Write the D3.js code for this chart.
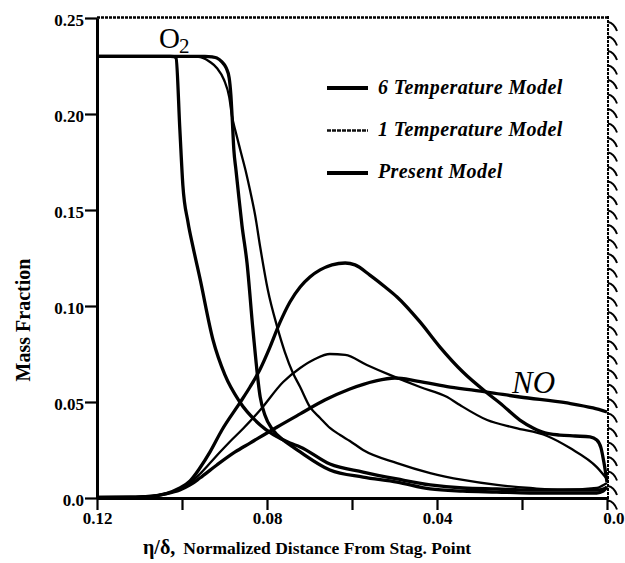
<!DOCTYPE html>
<html>
<head>
<meta charset="utf-8">
<script src="https://cdn.jsdelivr.net/npm/d3@7"></script>
<style>
  html, body { margin: 0; padding: 0; background: #fff; }
  svg { display: block; }
  text { font-family: 'Liberation Serif', 'Times New Roman', serif; fill: #000; }
</style>
</head>
<body>
<div id="chart"></div>
<script>
'use strict';

// [eta/delta, mass fraction] pairs
const o2SixTemp = [
    [0.1200, 0.2300], [0.0946, 0.2300], [0.0929, 0.2297], [0.0918, 0.2292], [0.0906, 0.2271],
    [0.0896, 0.2240], [0.0889, 0.2188], [0.0885, 0.2099], [0.0882, 0.1984], [0.0878, 0.1813],
    [0.0873, 0.1708], [0.0868, 0.1604], [0.0859, 0.1422], [0.0847, 0.1224], [0.0833, 0.0875],
    [0.0816, 0.0526], [0.0805, 0.0432], [0.0786, 0.0354], [0.0762, 0.0302], [0.0739, 0.0266],
    [0.0722, 0.0240], [0.0652, 0.0146], [0.0574, 0.0109], [0.0494, 0.0083], [0.0416, 0.0047],
    [0.0339, 0.0036], [0.0259, 0.0031], [0.0181, 0.0026], [0.0104, 0.0026], [0.0024, 0.0026],
    [0.0009, 0.0036], [0.0000, 0.0057]
];
const o2OneTemp = [
    [0.1200, 0.2300], [0.0981, 0.2300], [0.0962, 0.2298], [0.0951, 0.2292], [0.0934, 0.2271],
    [0.0918, 0.2240], [0.0901, 0.2177], [0.0889, 0.2089], [0.0882, 0.1984], [0.0873, 0.1901],
    [0.0861, 0.1797], [0.0849, 0.1693], [0.0840, 0.1604], [0.0828, 0.1474], [0.0816, 0.1307],
    [0.0798, 0.1083], [0.0776, 0.0891], [0.0758, 0.0760], [0.0739, 0.0651], [0.0722, 0.0578],
    [0.0699, 0.0474], [0.0675, 0.0417], [0.0652, 0.0365], [0.0628, 0.0328], [0.0605, 0.0297],
    [0.0574, 0.0250], [0.0494, 0.0182], [0.0416, 0.0130], [0.0339, 0.0094], [0.0259, 0.0068],
    [0.0181, 0.0052], [0.0104, 0.0042], [0.0024, 0.0052], [0.0012, 0.0063], [0.0000, 0.0078]
];
const o2Present = [
    [0.1200, 0.2300], [0.1028, 0.2300], [0.1019, 0.2299], [0.1014, 0.2292], [0.1005, 0.1917],
    [0.0998, 0.1630], [0.0986, 0.1438], [0.0974, 0.1307], [0.0958, 0.1146], [0.0927, 0.0823],
    [0.0899, 0.0641], [0.0864, 0.0500], [0.0816, 0.0380], [0.0746, 0.0286], [0.0722, 0.0266],
    [0.0652, 0.0177], [0.0574, 0.0135], [0.0494, 0.0099], [0.0416, 0.0068], [0.0339, 0.0052],
    [0.0259, 0.0047], [0.0181, 0.0042], [0.0104, 0.0042], [0.0024, 0.0042], [0.0009, 0.0047],
    [0.0000, 0.0057]
];
const noSixTemp = [
    [0.1200, 0.0003], [0.1122, 0.0004], [0.1075, 0.0008], [0.1040, 0.0021], [0.1005, 0.0052],
    [0.0981, 0.0089], [0.0958, 0.0156], [0.0934, 0.0240], [0.0906, 0.0354], [0.0864, 0.0495],
    [0.0840, 0.0578], [0.0816, 0.0672], [0.0793, 0.0786], [0.0769, 0.0917], [0.0746, 0.1021],
    [0.0722, 0.1099], [0.0699, 0.1151], [0.0675, 0.1188], [0.0647, 0.1214], [0.0616, 0.1224],
    [0.0593, 0.1214], [0.0558, 0.1161], [0.0522, 0.1099], [0.0494, 0.1047], [0.0440, 0.0917],
    [0.0393, 0.0786], [0.0339, 0.0656], [0.0282, 0.0547], [0.0252, 0.0495], [0.0205, 0.0406],
    [0.0174, 0.0365], [0.0146, 0.0339], [0.0111, 0.0328], [0.0075, 0.0323], [0.0040, 0.0318],
    [0.0024, 0.0302], [0.0014, 0.0260], [0.0007, 0.0182], [0.0000, 0.0083]
];
const noOneTemp = [
    [0.1200, 0.0003], [0.1122, 0.0004], [0.1075, 0.0008], [0.1040, 0.0021], [0.1005, 0.0047],
    [0.0981, 0.0078], [0.0958, 0.0125], [0.0934, 0.0182], [0.0911, 0.0238], [0.0888, 0.0292],
    [0.0856, 0.0362], [0.0816, 0.0458], [0.0762, 0.0604], [0.0722, 0.0677], [0.0687, 0.0724],
    [0.0652, 0.0750], [0.0616, 0.0745], [0.0565, 0.0693], [0.0511, 0.0641], [0.0440, 0.0578],
    [0.0376, 0.0526], [0.0346, 0.0484], [0.0282, 0.0406], [0.0216, 0.0365], [0.0141, 0.0323],
    [0.0087, 0.0260], [0.0024, 0.0161], [0.0000, 0.0099]
];
const noPresent = [
    [0.1200, 0.0003], [0.1122, 0.0004], [0.1075, 0.0008], [0.1040, 0.0021], [0.1005, 0.0042],
    [0.0981, 0.0068], [0.0958, 0.0104], [0.0918, 0.0172], [0.0875, 0.0240], [0.0840, 0.0286],
    [0.0776, 0.0370], [0.0722, 0.0438], [0.0664, 0.0510], [0.0605, 0.0568], [0.0546, 0.0609],
    [0.0499, 0.0625], [0.0447, 0.0609], [0.0369, 0.0578], [0.0282, 0.0552], [0.0205, 0.0526],
    [0.0094, 0.0495], [0.0033, 0.0469], [0.0000, 0.0448]
];

const legendLabels = ['6 Temperature Model', '1 Temperature Model', 'Present Model'];

const xLongTicks = [0.12, 0.10, 0.08, 0.06, 0.04, 0.02, 0.0];
const xShortTicks = [0.11, 0.09, 0.07, 0.05, 0.03, 0.01];
const xLabelTicks = [0.12, 0.08, 0.04, 0.0];
const xTickLabels = ['0.12', '0.08', '0.04', '0.0'];
const yMajorTicks = [0.0, 0.05, 0.10, 0.15, 0.20, 0.25];
const yTickLabels = ['0.0', '0.05', '0.10', '0.15', '0.20', '0.25'];
const yMinorTicks = [0.0125, 0.025, 0.0375, 0.0625, 0.075, 0.0875, 0.1125, 0.125, 0.1375,
    0.1625, 0.175, 0.1875, 0.2125, 0.225, 0.2375];

let width = 625;
let height = 563;
let plotLeft = 97, plotRight = 607, plotTop = 18, plotBottom = 498;

let svg = d3.select('#chart').append('svg')
    .attr('width', width)
    .attr('height', height)
    .style('background', '#fff');

let x = d3.scaleLinear().domain([0.12, 0]).range([plotLeft, plotRight]);
let y = d3.scaleLinear().domain([0, 0.25]).range([plotBottom, plotTop]);

// model styles: 0 = 6 temp, 1 = 1 temp, 2 = present
let styles = [
    { width: 3.3, dash: null },
    { width: 2.3, dash: null },
    { width: 3.3, dash: null }
];

let series = [
    { data: o2SixTemp, model: 0 },
    { data: o2OneTemp, model: 1 },
    { data: o2Present, model: 2 },
    { data: noSixTemp, model: 0 },
    { data: noOneTemp, model: 1 },
    { data: noPresent, model: 2 }
];

// frame: dotted top and wall
svg.append('line')
    .attr('x1', plotLeft).attr('x2', plotRight)
    .attr('y1', plotTop - 0.5).attr('y2', plotTop - 0.5)
    .attr('stroke', '#000').attr('stroke-width', 2.6)
    .attr('stroke-dasharray', '3,1');

svg.append('line')
    .attr('x1', plotRight + 1).attr('x2', plotRight + 1)
    .attr('y1', plotTop - 2).attr('y2', plotBottom + 4)
    .attr('stroke', '#000').attr('stroke-width', 2)
    .attr('stroke-dasharray', '3,1');

svg.append('g').selectAll('path').data(d3.range(plotTop + 4, plotBottom + 6, 14.5)).enter().append('path')
    .attr('d', function (d) { return 'M' + (plotRight + 1) + ',' + d + ' q6,1 9,9'; })
    .attr('fill', 'none')
    .attr('stroke', '#000')
    .attr('stroke-width', 2);

// axes
let gx = svg.append('g').attr('transform', 'translate(0,' + plotBottom + ')');
gx.call(d3.axisBottom(x).tickValues(xShortTicks).tickSize(9).tickSizeOuter(0).tickFormat(''));
gx.call(d3.axisBottom(x).tickValues(xLongTicks).tickSize(12).tickSizeOuter(0).tickPadding(2)
    .tickFormat(function (d) {
        let i = xLabelTicks.indexOf(d);
        return i < 0 ? '' : xTickLabels[i];
    }));

let gy = svg.append('g').attr('transform', 'translate(' + plotLeft + ',0)');
gy.call(d3.axisLeft(y).tickValues(yMinorTicks).tickSize(5).tickSizeOuter(0).tickFormat(''));
gy.call(d3.axisLeft(y).tickValues(yMajorTicks).tickSize(12).tickSizeOuter(0).tickPadding(1)
    .tickFormat(function (d, i) { return yTickLabels[i]; }));

svg.selectAll('.domain').attr('stroke', '#000').attr('stroke-width', 3);
svg.selectAll('.tick line').attr('stroke', '#000').attr('stroke-width', 2.2);
svg.selectAll('.tick text')
    .style('font-family', "'Liberation Serif', serif")
    .style('font-size', '17px')
    .style('font-weight', 'bold')
    .attr('fill', '#000');
gy.selectAll('.tick text').attr('dy', '0.42em');
gx.selectAll('.tick text').filter(function (d) { return d === 0; })
    .attr('text-anchor', 'end').attr('x', 17);

// curves
let line = d3.line()
    .x(function (d) { return x(d[0]); })
    .y(function (d) { return y(d[1]); })
    .curve(d3.curveMonotoneX);

svg.append('g').selectAll('path').data(series).enter().append('path')
    .attr('d', function (d) { return line(d.data); })
    .attr('fill', 'none')
    .attr('stroke', '#000')
    .attr('stroke-linejoin', 'round')
    .attr('stroke-width', function (d) { return styles[d.model].width; })
    .attr('stroke-dasharray', function (d) { return styles[d.model].dash; });

// legend
let legend = svg.append('g');
legend.selectAll('line').data(legendLabels).enter().append('line')
    .attr('x1', 327).attr('x2', 368)
    .attr('y1', function (d, i) { return 88 + i * 42.5; })
    .attr('y2', function (d, i) { return 88 + i * 42.5; })
    .attr('stroke', function (d, i) { return i === 1 ? '#111' : '#000'; })
    .attr('stroke-width', function (d, i) { return i === 1 ? 2.6 : 4; })
    .attr('stroke-dasharray', function (d, i) { return i === 1 ? '4,1' : null; });
legend.selectAll('text').data(legendLabels).enter().append('text')
    .attr('x', 378)
    .attr('y', function (d, i) { return 94 + i * 42; })
    .style('font-size', '20px')
    .style('font-weight', 'bold')
    .style('font-style', 'italic')
    .style('letter-spacing', '0.4px')
    .text(function (d) { return d; });

// species labels
let o2 = svg.append('text').attr('x', 159).attr('y', 48).style('font-size', '29px');
o2.append('tspan').text('O');
o2.append('tspan').attr('dx', -1).attr('dy', 5).style('font-size', '21px').text('2');

svg.append('text').attr('x', 512).attr('y', 393)
    .style('font-size', '31px').style('font-style', 'italic')
    .text('NO');

// axis titles
svg.append('text')
    .attr('transform', 'translate(30,320) rotate(-90)')
    .attr('text-anchor', 'middle')
    .style('font-size', '20px')
    .style('font-weight', 'bold')
    .text('Mass Fraction');

let xt = svg.append('text').attr('x', 143).attr('y', 554).style('font-weight', 'bold');
xt.append('tspan').style('font-size', '20px').text('η/δ,');
xt.append('tspan').attr('dx', 8).style('font-size', '17.5px').text('Normalized Distance From Stag. Point');
</script>
</body>
</html>
